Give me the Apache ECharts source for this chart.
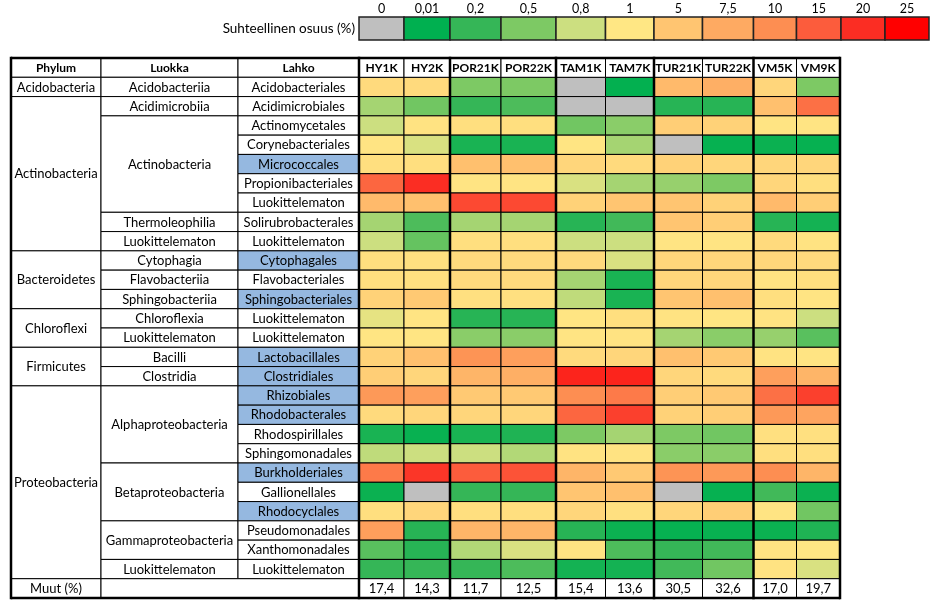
<!DOCTYPE html>
<html><head><meta charset="utf-8">
<script src="https://cdn.jsdelivr.net/npm/echarts@6/dist/echarts.min.js"></script>
<style>html,body{margin:0;padding:0;background:#fff}#c{width:935px;height:612px}</style>
</head><body><div id="c"></div>
<script>
// ---------- DATA ----------
const samples = ['HY1K','HY2K','POR21K','POR22K','TAM1K','TAM7K','TUR21K','TUR22K','VM5K','VM9K'];
const headers = ['Phylum','Luokka','Lahko'];
const phyla = [['Acidobacteria',1],['Actinobacteria',8],['Bacteroidetes',3],['Chloroflexi',2],['Firmicutes',2],['Proteobacteria',10]];
const classes = [['Acidobacteriia',1],['Acidimicrobiia',1],['Actinobacteria',5],['Thermoleophilia',1],['Luokittelematon',1],
  ['Cytophagia',1],['Flavobacteriia',1],['Sphingobacteriia',1],['Chloroflexia',1],['Luokittelematon',1],
  ['Bacilli',1],['Clostridia',1],['Alphaproteobacteria',4],['Betaproteobacteria',3],['Gammaproteobacteria',2],['Luokittelematon',1]];
const orders = ['Acidobacteriales','Acidimicrobiales','Actinomycetales','Corynebacteriales','Micrococcales','Propionibacteriales',
  'Luokittelematon','Solirubrobacterales','Luokittelematon','Cytophagales','Flavobacteriales','Sphingobacteriales',
  'Luokittelematon','Luokittelematon','Lactobacillales','Clostridiales','Rhizobiales','Rhodobacterales','Rhodospirillales',
  'Sphingomonadales','Burkholderiales','Gallionellales','Rhodocyclales','Pseudomonadales','Xanthomonadales','Luokittelematon'];
const highlightedOrders = ['Micrococcales','Cytophagales','Sphingobacteriales','Lactobacillales','Clostridiales',
  'Rhizobiales','Rhodobacterales','Burkholderiales','Rhodocyclales'];
const HY1K   = [2.5,0.65,0.8,1.3,2,14,6,0.65,0.8,2,2,3.5,0.9,1.2,3.5,4,9,2.5,0.1,0.75,12,0.05,2,8.5,0.35,0.2];
const HY2K   = [2.5,0.45,1.5,0.85,2,20,5.5,0.3,0.4,1.8,1.8,4.5,1.3,1.2,5.5,3,8.5,3,0.04,0.8,19,0,3,0.15,0.15,0.2];
const POR21K = [0.5,0.2,2,0.1,5.5,1.3,17,0.65,2,2.5,2.5,1.8,0.15,0.55,9.5,6.5,4.5,3,0.1,0.8,15,0.2,2,6.5,0.7,0.2];
const POR22K = [0.5,0.3,2,0.1,5.5,1.3,17,0.65,2,2.5,2.5,1.8,0.15,0.55,8.5,7,4.5,3,0.12,0.7,16,0.2,2,6.5,0.85,0.3];
const TAM1K  = [0,0,0.45,1.2,3,0.85,3.5,0.15,0.8,2.5,0.65,0.75,1.2,1.3,2.5,21,10,14,0.5,1.5,6.5,5,3,0.15,1.5,0.08];
const TAM7K  = [0.02,0,0.55,0.65,2.5,0.65,5,0.25,0.8,0.85,0.1,0.1,2,1.5,3,21,12,18,0.65,1.5,4.5,5.5,1.8,0.05,0.3,0.08];
const TUR21K = [6,0.15,4,0,3.5,0.6,5,5,1.3,3,3,5,1.5,0.65,5.5,3,4,3.5,0.5,0.55,9.5,0,3,0.03,0.2,0.25];
const TUR22K = [7,0.15,3.5,0.03,3,0.5,3.5,4,1.3,3,3,5.5,1.2,0.55,4.5,2.5,4.5,4,0.45,0.55,9,0.03,4,0.04,0.25,0.45];
const VM5K   = [3,5.5,1.3,0.05,3,3,6,0.15,2.5,3,1.5,2,1.5,0.6,1.5,8.5,13,9,1.8,2,10,0.25,1.3,0.05,1.5,1.5];
const VM9K   = [0.5,13,1.3,0.03,3,2,4,0.08,1.5,2.5,2,1.3,0.8,0.35,1.3,6.5,18,8,1.8,2,6.5,0.05,0.45,0.12,1.1,0.85];
const muut = [17.4,14.3,11.7,12.5,15.4,13.6,30.5,32.6,17.0,19.7];
const legendStops  = [0,0.01,0.2,0.5,0.8,1,5,7.5,10,15,20,25];
const legendLabels = ['0','0,01','0,2','0,5','0,8','1','5','7,5','10','15','20','25'];
const legendTitle = 'Suhteellinen osuus (%)';

// ---------- STYLE / LAYOUT ----------
const legendColors = ['#BFBFBF','#00B050','#35B657','#7DC964','#CCDF80','#FFE784','#FFC571','#FEAA62','#FD8E52','#FC5C3C','#FB2D23','#FF0000'];
const colEdges = [11,101,238,359,404,450,501,556,605.5,654,702.5,753.5,796.5,840];
const legendEdges = [359,404,450,501,556,605.5,654,702.5,753.5,796.5,841,885,929];
const thickCols = [0,3,5,7,9,11,13];
const FONT = 'Lato, "Open Sans", sans-serif';
const HL = '#95B8E0';
const BODY_SIZE = 13, HEAD_SIZE = 12;

const sampleSeries = [HY1K,HY2K,POR21K,POR22K,TAM1K,TAM7K,TUR21K,TUR22K,VM5K,VM9K];
function level(v){
  for (let i=0;i<legendStops.length-1;i++){
    if (v < legendStops[i+1]) return i + (v-legendStops[i])/(legendStops[i+1]-legendStops[i]);
  }
  return legendStops.length-1;
}
const nRows = orders.length;
const heatData = [];
sampleSeries.forEach((arr,c)=>arr.forEach((v,r)=>heatData.push([c, r+1, v, level(v)])));
const legendData = legendStops.map((s,i)=>[i, 0, s, i]);

// text cells
const textCells = [];
headers.concat(samples).forEach((h,k)=>textCells.push({c0:k,c1:k+1,r0:0,r1:1,text:h,bold:true}));
let r = 1;
phyla.forEach(([n,s])=>{textCells.push({c0:0,c1:1,r0:r,r1:r+s,text:n}); r+=s;});
r = 1;
classes.forEach(([n,s])=>{textCells.push({c0:1,c1:2,r0:r,r1:r+s,text:n}); r+=s;});
orders.forEach((n,i)=>textCells.push({c0:2,c1:3,r0:i+1,r1:i+2,text:n,fill:highlightedOrders.includes(n)?HL:'#fff'}));
textCells.push({c0:0,c1:1,r0:nRows+1,r1:nRows+2,text:'Muut (%)'});
textCells.push({c0:1,c1:3,r0:nRows+1,r1:nRows+2,text:''});
muut.forEach((v,k)=>textCells.push({c0:k+3,c1:k+4,r0:nRows+1,r1:nRows+2,text:v.toFixed(1).replace('.',',')}));

const chart = echarts.init(document.getElementById('c'), null, {renderer:'canvas'});
chart.setOption({
  animation:false,
  backgroundColor:'#fff',
  grid:[
    {left:0, top:58, width:935, height:540},
    {left:359, top:17, width:570, height:23}
  ],
  xAxis:[
    {gridIndex:0,type:'value',min:0,max:935,show:false},
    {gridIndex:1,type:'value',min:359,max:929,show:false}
  ],
  yAxis:[
    {gridIndex:0,type:'value',min:0,max:nRows+2,inverse:true,show:false},
    {gridIndex:1,type:'category',data:[legendTitle],axisLine:{show:false},axisTick:{show:false},splitLine:{show:false},
     axisLabel:{fontFamily:FONT,fontSize:13.5,color:'#000',margin:4}}
  ],
  visualMap:{type:'continuous',show:false,min:0,max:legendColors.length-1,dimension:3,seriesIndex:[0,1],
    inRange:{color:legendColors}},
  series:[
    {type:'custom',xAxisIndex:0,yAxisIndex:0,data:heatData,encode:{x:0,y:1},z:2,
      renderItem(params,api){
        const c=api.value(0), rr=api.value(1);
        const p0=api.coord([colEdges[c+3],rr]), p1=api.coord([colEdges[c+4],rr+1]);
        return {type:'rect',shape:{x:p0[0],y:p0[1],width:p1[0]-p0[0],height:p1[1]-p0[1]},
          style:{fill:api.visual('color'),stroke:'#000',lineWidth:1}};
      }},
    {type:'custom',xAxisIndex:1,yAxisIndex:1,data:legendData,encode:{x:0,y:1},z:2,
      renderItem(params,api){
        const i=api.value(0);
        const pc=api.coord([legendEdges[i],0]);
        const pe=api.coord([legendEdges[i+1],0]);
        const h=api.size([0,1])[1];
        const top=pc[1]-h/2;
        return {type:'group',children:[
          {type:'rect',shape:{x:pc[0],y:top,width:pe[0]-pc[0],height:h},
            style:{fill:api.visual('color'),stroke:'#222',lineWidth:1.5}},
          {type:'text',style:{text:legendLabels[i],x:(pc[0]+pe[0])/2,y:top-8,align:'center',verticalAlign:'middle',
            textAlign:'center',textVerticalAlign:'middle',fontFamily:FONT,fontSize:12.5,fill:'#000'}}
        ]};
      }},
    {type:'custom',xAxisIndex:0,yAxisIndex:0,data:textCells.map(d=>[colEdges[d.c0],d.r0]),encode:{x:0,y:1},z:3,
      renderItem(params,api){
        const d=textCells[params.dataIndex];
        const p0=api.coord([colEdges[d.c0],d.r0]), p1=api.coord([colEdges[d.c1],d.r1]);
        return {type:'group',children:[
          {type:'rect',shape:{x:p0[0],y:p0[1],width:p1[0]-p0[0],height:p1[1]-p0[1]},
            style:{fill:d.fill||'#fff',stroke:'#000',lineWidth:1}},
          {type:'text',style:{text:d.text,x:(p0[0]+p1[0])/2,y:(p0[1]+p1[1])/2+0.5,align:'center',verticalAlign:'middle',
            textAlign:'center',textVerticalAlign:'middle',fontFamily:FONT,fontSize:d.bold?HEAD_SIZE:BODY_SIZE,
            fontWeight:d.bold?'bold':'normal',fill:'#000'}}
        ]};
      }},
    {type:'custom',xAxisIndex:0,yAxisIndex:0,data:[[0,0]],encode:{x:0,y:1},z:5,
      renderItem(params,api){
        const ch=[];
        thickCols.forEach(k=>{
          const a=api.coord([colEdges[k],0]), b=api.coord([colEdges[k],nRows+2]);
          ch.push({type:'line',shape:{x1:a[0],y1:a[1]-1.2,x2:b[0],y2:b[1]+1.2},style:{stroke:'#000',lineWidth:2.5}});
        });
        [0,nRows+2].forEach(rr=>{
          const a=api.coord([colEdges[0],rr]), b=api.coord([colEdges[colEdges.length-1],rr]);
          ch.push({type:'line',shape:{x1:a[0],y1:a[1],x2:b[0],y2:b[1]},style:{stroke:'#000',lineWidth:2.5}});
        });
        return {type:'group',children:ch};
      }}
  ]
});
</script></body></html>
